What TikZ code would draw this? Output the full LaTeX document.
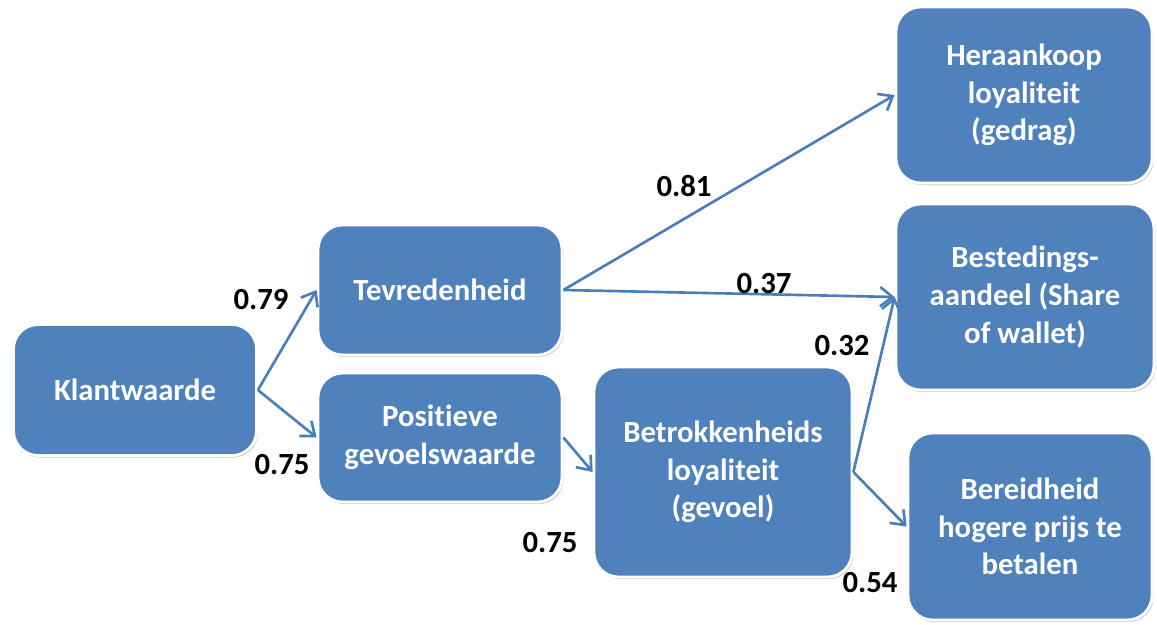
\documentclass[tikz,border=0pt]{standalone}
\usepackage{fontspec}
\setmainfont{Carlito}[Ligatures=NoCommon]
\usepackage{xcolor}
\usepackage{tikz}
\usetikzlibrary{arrows.meta,shadows}

\definecolor{boxblue}{HTML}{4F81BD}
\definecolor{arrowblue}{HTML}{4A7EBB}

\begin{document}
\begin{tikzpicture}[
  blok/.style={draw=white, line width=1.6pt, rounded corners=14pt, fill=boxblue,
               text=white, font=\fontsize{17.5}{21.5}\selectfont\bfseries, align=center,
               drop shadow={shadow xshift=0.8pt, shadow yshift=-1.2pt, opacity=0.4}},
  pijl/.style={-{Straight Barb[length=7pt, width=11pt, line width=1.5pt]},
               line width=1.5pt, draw=arrowblue},
  gewicht/.style={font=\fontsize{17.5}{20}\selectfont\bfseries, text=black}
]
  \useasboundingbox (0,0) rectangle (23.14,-12.5);

  % Boxes
  \node[blok, minimum width=4.86cm, minimum height=2.62cm] (klant) at (2.70,-7.80) {Klantwaarde};
  \node[blok, minimum width=4.88cm, minimum height=2.60cm] (tevr) at (8.80,-5.80) {Tevredenheid};
  \node[blok, minimum width=4.88cm, minimum height=2.58cm] (posi) at (8.80,-8.75) {Positieve\\gevoelswaarde};
  \node[blok, minimum width=5.16cm, minimum height=4.20cm] (betr) at (14.46,-9.44) {Betrokkenheids\\loyaliteit\\(gevoel)};
  \node[blok, minimum width=5.12cm, minimum height=3.52cm] (hera) at (20.48,-1.90) {Heraankoop\\loyaliteit\\(gedrag)};
  \node[blok, minimum width=5.16cm, minimum height=3.72cm] (best) at (20.50,-5.94) {Bestedings-\\aandeel (Share\\of wallet)};
  \node[blok, minimum width=4.88cm, minimum height=3.74cm] (bere) at (20.60,-10.53) {Bereidheid\\hogere prijs te\\betalen};

  % Arrows
  \draw[pijl] (klant.east) -- (tevr.west);
  \draw[pijl] (klant.east) -- (posi.west);
  \draw[pijl] (tevr.east) -- (hera.west);
  \draw[pijl] (tevr.east) -- (best.west);
  \draw[pijl] (posi.east) -- (betr.west);
  \draw[pijl] (betr.east) -- (best.west);
  \draw[pijl] (betr.east) -- (bere.west);

  % Weights
  \node[gewicht] (w79) at (5.22,-6.00) {0.79};
  \node[gewicht] (w75a) at (5.64,-9.30) {0.75};
  \node[gewicht] (w81) at (13.68,-3.72) {0.81};
  \node[gewicht] (w37) at (15.28,-5.68) {0.37};
  \node[gewicht] (w32) at (16.84,-6.92) {0.32};
  \node[gewicht] (w75b) at (11.00,-10.86) {0.75};
  \node[gewicht] (w54) at (17.40,-11.66) {0.54};
\end{tikzpicture}
\end{document}
